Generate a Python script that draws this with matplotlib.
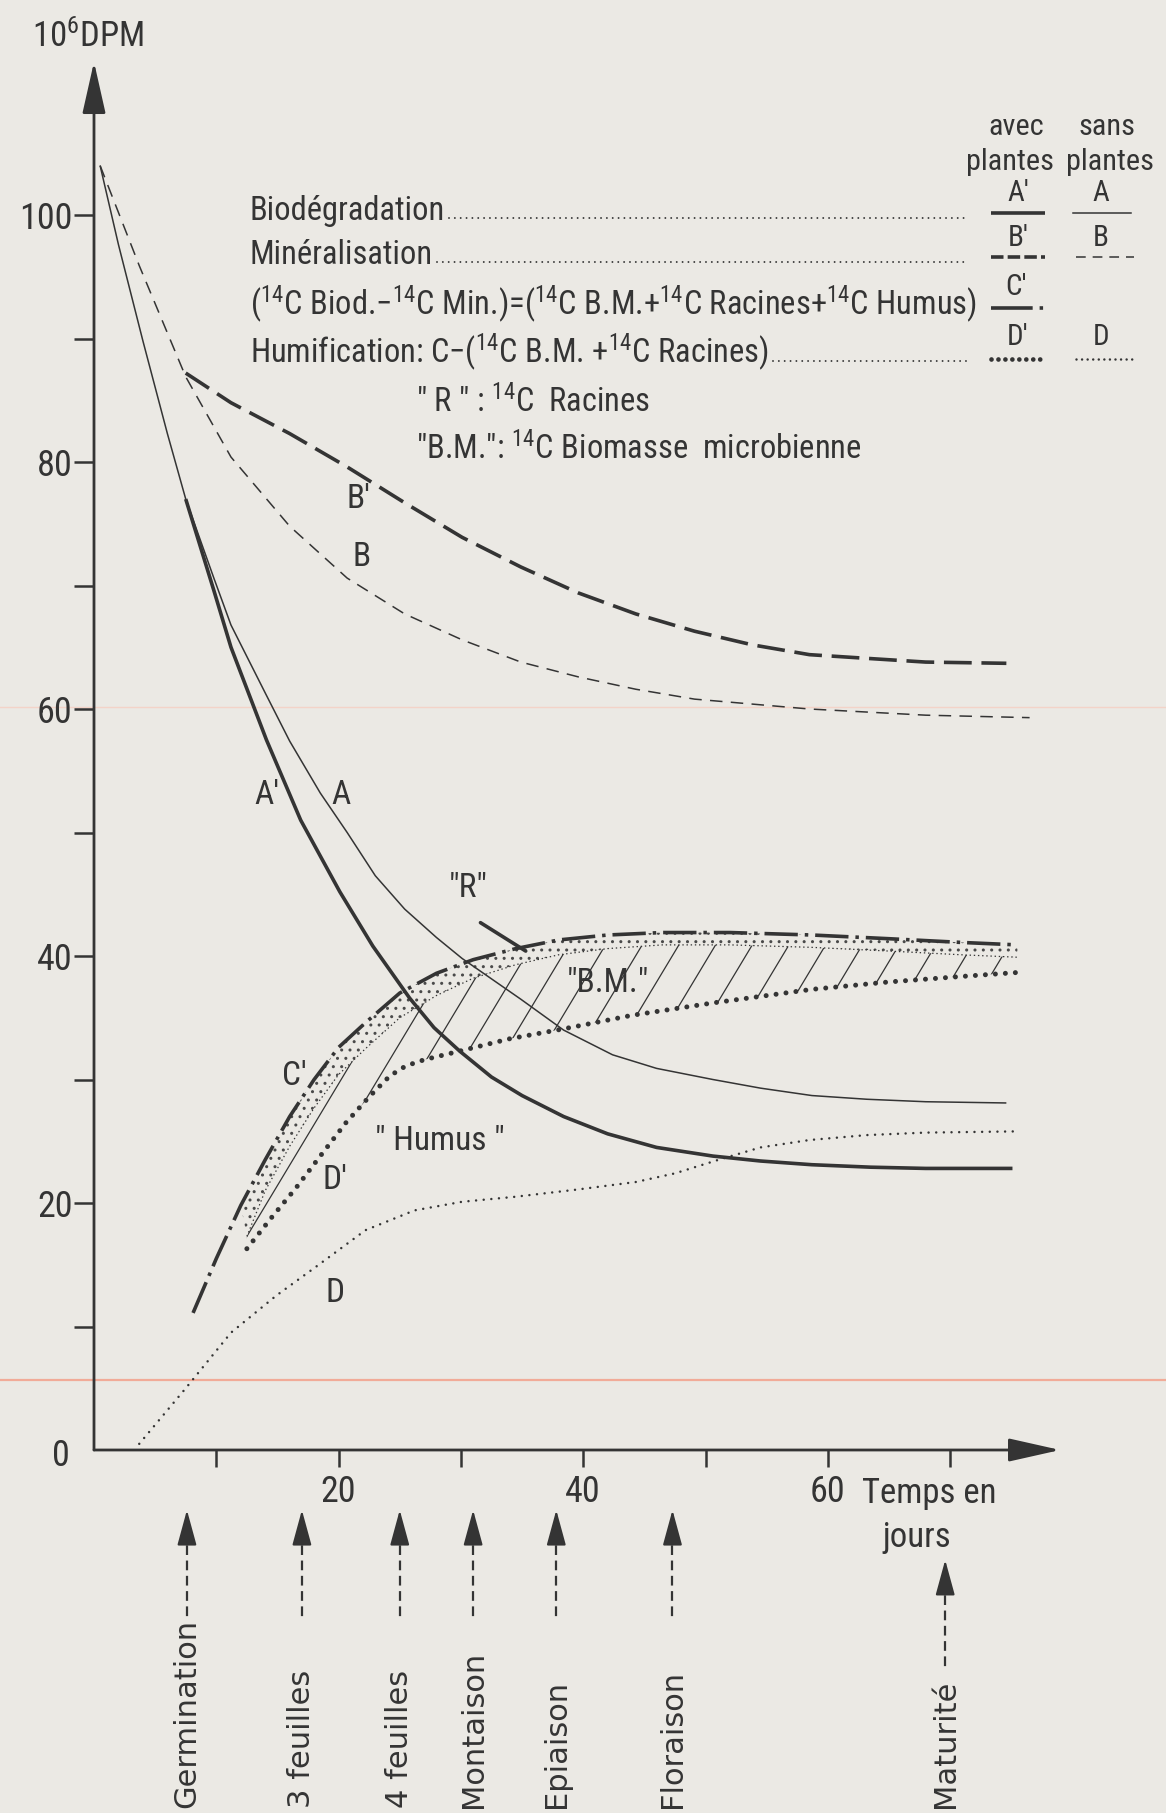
import numpy as np
import matplotlib
matplotlib.use('Agg')
import matplotlib.pyplot as plt
from matplotlib import font_manager
from matplotlib.patches import Polygon

names = {f.name for f in font_manager.fontManager.ttflist}
NARROW = 'Liberation Sans'
for cand in ['Liberation Sans Narrow', 'Roboto Condensed', 'Liberation Sans']:
    if cand in names:
        NARROW = cand
        break
GEO = 'DejaVu Sans'

plt.rcParams['font.family'] = [NARROW, 'DejaVu Sans']
plt.rcParams['mathtext.fontset'] = 'custom'
plt.rcParams['mathtext.rm'] = NARROW
plt.rcParams['mathtext.it'] = NARROW
plt.rcParams['mathtext.bf'] = NARROW
plt.rcParams['lines.scale_dashes'] = False

INK = '#343434'
PAPER = '#ebe9e4'

# ---------------- data (days, 10^6 DPM) ----------------
# A : biodegradation, sans plantes
a_x = [0.5, 2, 4, 6, 7.5, 9.8, 11.2, 14, 16, 18.5, 20.7, 23, 25.4, 28, 30.1, 34.9, 38.4,
       42.4, 46, 50.6, 54.5, 58.7, 63.2, 68, 74.6]
a_y = [104, 97.6, 89.8, 82.3, 77, 70.6, 66.8, 61.3, 57.4, 53.2, 50, 46.5, 43.8, 41.5, 39.8,
       36.5, 34.0, 32.0, 30.9, 30.0, 29.3, 28.7, 28.4, 28.2, 28.1]
# A' : biodegradation, avec plantes
a2_x = [7.5, 9.8, 11.2, 14.1, 16.9, 20.1, 22.8, 25.8, 27.8, 29.9, 32.5, 35.0, 38.4, 42,
        46, 50.6, 54.5, 58.7, 63.5, 68, 75.1]
a2_y = [77, 69.6, 65, 57.5, 51, 45.2, 40.8, 36.6, 34.2, 32.3, 30.2, 28.7, 27, 25.6,
        24.5, 23.8, 23.4, 23.1, 22.9, 22.8, 22.8]
# B : mineralisation, sans plantes
b_x = [0.5, 3.7, 7.5, 11.2, 16, 20.7, 25.4, 30.1, 34.9, 39.6, 44.3, 49.1, 58.5, 68, 76.5]
b_y = [104, 95.9, 86.9, 80.4, 74.8, 70.6, 67.7, 65.6, 63.8, 62.6, 61.6, 60.8, 60.0, 59.5, 59.3]
# B' : mineralisation, avec plantes
b2_x = [7.5, 11.2, 16, 20.7, 25.4, 30.1, 34.9, 39.6, 44.3, 49.1, 53.8, 58.5, 63.2, 68, 74.6]
b2_y = [87.2, 84.8, 82.3, 79.6, 76.7, 73.9, 71.5, 69.4, 67.7, 66.3, 65.2, 64.4, 64.1, 63.8, 63.7]
# C' : 14C Biod. - 14C Min. (avec plantes)
c2_x = [8.1, 10, 12, 14, 16, 18, 20, 22.2, 25, 28, 31, 34.5, 38, 42, 46.5, 52, 58.7, 65,
        70.9, 75.5]
c2_y = [11.1, 15.5, 19.8, 23.5, 27, 30, 32.6, 34.6, 37, 38.6, 39.7, 40.6, 41.3, 41.7, 41.9,
        41.9, 41.7, 41.4, 41.1, 40.9]
# lower limit of "R" (14C racines) band = upper limit of "B.M." band
r_x = [12.5, 14, 16, 18, 20, 22.2, 25, 28, 31, 34.5, 38, 42, 46.5, 52, 58.7, 65, 70.9, 75.5]
r_y = [17.3, 21, 24.6, 27.7, 30.4, 32.5, 35, 36.8, 38.2, 39.3, 40.1, 40.6, 40.9, 40.9, 40.7,
       40.4, 40.1, 39.9]
# D' : humification, avec plantes
d2_x = [12.5, 14.5, 16.5, 18.5, 20.6, 22.5, 24.2, 25.5, 27, 29.9, 34, 38.4, 44, 50.6, 58.7,
        65, 71.7, 76]
d2_y = [16.3, 18.8, 21.2, 23.8, 26.5, 28.6, 30.3, 31.1, 31.6, 32.3, 33.3, 34.1, 35.2, 36.2,
        37.3, 37.9, 38.4, 38.7]
# D : humification, sans plantes
d_x = [3.7, 7.5, 11.2, 14.9, 18.1, 22.2, 26.2, 30.1, 34.4, 39.6, 44.3, 47.5, 51.4, 54.5,
       58.5, 63.2, 68, 75.5]
d_y = [0.5, 5, 9.5, 12.5, 14.8, 17.8, 19.4, 20.1, 20.5, 21.1, 21.7, 22.4, 23.6, 24.5, 25.1,
       25.5, 25.7, 25.8]

# phenological stages
stage_names = ['Germination', '3 feuilles', '4 feuilles', 'Montaison', 'Epiaison',
               'Floraison', 'Maturité']
stage_days = [7.6, 17.0, 25.0, 31.0, 37.8, 47.3, 69.6]

y_major = [20, 40, 60, 80, 100]
y_minor = [10, 30, 50, 70, 90]
x_ticks = [10, 20, 30, 40, 50, 60, 70]
x_ticklabels = ['', '20', '', '40', '', '60', '']

# ---------------- figure ----------------
W, H = 1166, 1813
fig = plt.figure(figsize=(W / 100, H / 100), dpi=100, facecolor=PAPER)
ov = fig.add_axes([0, 0, 1, 1])
ov.set_xlim(0, W)
ov.set_ylim(H, 0)
ov.axis('off')
ov.patch.set_visible(False)

# faint scan lines of the paper
ov.axhline(1380, color='#f1ab98', lw=1.6, zorder=0)
ov.axhline(707, color='#f3d3c8', lw=1.0, zorder=0)

X0, Y0, SX, SY = 94, 1450, 12.23, 12.35
XMAX, YMAX = 80, 113
ax = fig.add_axes([X0 / W, (H - Y0) / H, XMAX * SX / W, YMAX * SY / H])
ax.set_xlim(0, XMAX)
ax.set_ylim(0, YMAX)
ax.patch.set_visible(False)
for s in ax.spines.values():
    s.set_visible(False)

# axes with arrows
arrow_kw = dict(arrowstyle='-|>,head_length=1.6,head_width=0.36', mutation_scale=20,
                lw=2.0, color=INK, shrinkA=0, shrinkB=0)
ax.annotate('', xy=(79, 0), xytext=(0, 0), arrowprops=arrow_kw, annotation_clip=False)
ax.annotate('', xy=(0, 112.4), xytext=(0, 0), arrowprops=arrow_kw, annotation_clip=False)

ax.set_yticks(y_major)
ax.set_yticks(y_minor, minor=True)
ax.tick_params(axis='y', which='both', direction='out', length=14.5, width=1.8,
               color=INK, labelcolor=INK, labelsize=26, pad=1)
ax.set_xticks(x_ticks)
ax.set_xticklabels(x_ticklabels)
ax.tick_params(axis='x', which='both', direction='out', length=12, width=1.8,
               color=INK, labelcolor=INK, labelsize=26, pad=5)
ov.text(70, 1456, '0', ha='right', va='center', fontsize=26, color=INK)

# ---------------- curves ----------------
ax.plot(a_x, a_y, color=INK, lw=1.1, solid_capstyle='butt')
ax.plot(a2_x, a2_y, color=INK, lw=2.6, solid_capstyle='butt')
ax.plot(b_x, b_y, color=INK, lw=1.1, linestyle=(0, (9, 6)))
ax.plot(b2_x, b2_y, color=INK, lw=2.6, linestyle=(0, (20, 7)))
ax.plot(c2_x, c2_y, color=INK, lw=2.6, linestyle=(0, (24, 5, 2.5, 5)))
ax.plot(r_x, r_y, color=INK, lw=0.9, linestyle=(0, (1, 2)))
ax.plot(d2_x, d2_y, color=INK, lw=3.6, linestyle=(0, (0.01, 7.2)), dash_capstyle='round')
ax.plot(d_x, d_y, color=INK, lw=1.8, linestyle=(0, (0.01, 5.5)), dash_capstyle='round')

# "R" band (stippled) between C' and r
c_up = np.column_stack([c2_x, c2_y])
r_lo = np.column_stack([r_x, r_y])[::-1]
band_r = Polygon(np.vstack([c_up[2:], r_lo]), closed=True, facecolor='none',
                 edgecolor='#4a4a4a', lw=0, hatch='..')
ax.add_patch(band_r)

# "B.M." band (hatched) between r and D'
bm_poly = Polygon(np.vstack([np.column_stack([r_x, r_y]),
                             np.column_stack([d2_x, d2_y])[::-1]]),
                  closed=True, facecolor='none', edgecolor='none', lw=0)
ax.add_patch(bm_poly)
for x0 in np.arange(-10, 80, 3.0):
    ln, = ax.plot([x0, x0 + 0.607 * YMAX], [0, YMAX], color=INK, lw=0.9)
    ln.set_clip_path(bm_poly)

# ---------------- curve labels ----------------
lab_kw = dict(fontsize=24, color=INK, ha='center', va='center')
ax.text(14.1, 53, "A'", **lab_kw)
ax.text(20.2, 53, "A", **lab_kw)
ax.text(21.6, 77.0, "B'", **lab_kw)
ax.text(21.9, 72.3, "B", **lab_kw)
ax.text(16.4, 30.3, "C'", **lab_kw)
ax.text(19.7, 21.9, "D'", **lab_kw)
ax.text(19.7, 12.7, "D", **lab_kw)
ax.text(30.6, 45.5, '"R"', **lab_kw)
ax.annotate('', xy=(35.3, 40.4), xytext=(31.6, 42.7),
            arrowprops=dict(arrowstyle='-', lw=2.6, color=INK, shrinkA=0, shrinkB=0))
ax.text(42.0, 37.8, '"B.M."', **lab_kw)
ax.text(28.3, 25.0, '" Humus "', **lab_kw)

# ---------------- stages ----------------
for name, day in zip(stage_names, stage_days):
    late = name == 'Maturité'
    tip = -8.9 if late else -4.86
    end = -17.9 if late else -13.8
    ax.plot([day, day], [tip - 1.6, end], color=INK, lw=1.6, linestyle=(0, (7, 4)),
            clip_on=False)
    ax.annotate('', xy=(day, tip), xytext=(day, tip - 2.2),
                arrowprops=dict(arrowstyle='-|>,head_length=1.1,head_width=0.3',
                                mutation_scale=20, lw=1.5, color=INK, shrinkA=0, shrinkB=0),
                annotation_clip=False)
    ax.text(day, -29.0, name, rotation=90, ha='center', va='bottom', fontsize=22,
            family=GEO, color=INK, clip_on=False)

# ---------------- axis titles ----------------
ov.text(32, 37, r"10$^{6}$DPM", ha='left', va='center', fontsize=25, color=INK)
ov.text(862, 1493, "Temps en", ha='left', va='center', fontsize=25, color=INK)
ov.text(917, 1537, "jours", ha='center', va='center', fontsize=25, color=INK)

# ---------------- legend block ----------------
LF = 25
t_bio = ov.text(250, 220, "Biodégradation", ha='left', va='baseline', fontsize=LF, color=INK)
t_min = ov.text(250, 264, "Minéralisation", ha='left', va='baseline', fontsize=LF, color=INK)
t_for = ov.text(250, 315,
                r"($^{14}$C Biod.−$^{14}$C Min.)=($^{14}$C B.M.+$^{14}$C Racines+$^{14}$C Humus)",
                ha='left', va='baseline', fontsize=LF, color=INK)
t_hum = ov.text(250, 363, r"Humification: C−($^{14}$C B.M. +$^{14}$C Racines)",
                ha='left', va='baseline', fontsize=LF, color=INK)
t_r = ov.text(416, 412, r'" R " : $^{14}$C  Racines', ha='left', va='baseline',
              fontsize=LF, color=INK)
t_bm = ov.text(416, 459, r'"B.M.": $^{14}$C Biomasse  microbienne', ha='left', va='baseline',
               fontsize=LF, color=INK)
legend_texts = [t_bio, t_min, t_for, t_hum, t_r, t_bm]

hdr = [ov.text(1016, 127, "avec", ha='center', va='center', fontsize=LF, color=INK),
       ov.text(1107, 127, "sans", ha='center', va='center', fontsize=LF, color=INK),
       ov.text(1010, 162, "plantes", ha='center', va='center', fontsize=LF, color=INK),
       ov.text(1110, 162, "plantes", ha='center', va='center', fontsize=LF, color=INK)]

sk = dict(fontsize=21, color=INK, ha='center', va='center')
ov.text(1018, 193, "A'", **sk)
ov.text(1101, 193, "A", **sk)
ov.text(1018, 238, "B'", **sk)
ov.text(1101, 238, "B", **sk)
ov.text(1016, 287, "C'", **sk)
ov.text(1018, 337, "D'", **sk)
ov.text(1101, 337, "D", **sk)

ov.plot([991, 1045], [213, 213], color=INK, lw=2.6, solid_capstyle='butt')
ov.plot([1073, 1131], [213, 213], color=INK, lw=1.1)
ov.plot([991, 1045], [257, 257], color=INK, lw=2.6, linestyle=(0, (9, 3)))
ov.plot([1076, 1134], [257, 257], color=INK, lw=1.1, linestyle=(0, (7, 5)))
ov.plot([991, 1050], [308, 308], color=INK, lw=2.6, linestyle=(0, (30, 5, 2.5, 5)))
ov.plot([991, 1045], [359, 359], color=INK, lw=3.4, linestyle=(0, (0.01, 5)),
        dash_capstyle='round')
ov.plot([1076, 1134], [359, 359], color=INK, lw=1.8, linestyle=(0, (0.01, 4)),
        dash_capstyle='round')

# fit the legend font so the long formula line spans the same width as in the original
fig.canvas.draw()
rend = fig.canvas.get_renderer()
bb = t_for.get_window_extent(rend)
fs = LF * 728.0 / bb.width
for t in legend_texts:
    t.set_fontsize(fs)
for t in hdr:
    t.set_fontsize(fs * 0.93)

# dotted leaders
fig.canvas.draw()
inv = ov.transData.inverted()
for t, y in [(t_bio, 218), (t_min, 262), (t_hum, 361)]:
    bb = t.get_window_extent(rend)
    xe = inv.transform((bb.x1, bb.y0))[0]
    ov.plot([xe + 4, 969], [y, y], color=INK, lw=1.4, linestyle=(0, (0.01, 4.2)),
            dash_capstyle='round')

fig.savefig('out.png', dpi=100, facecolor=PAPER)
